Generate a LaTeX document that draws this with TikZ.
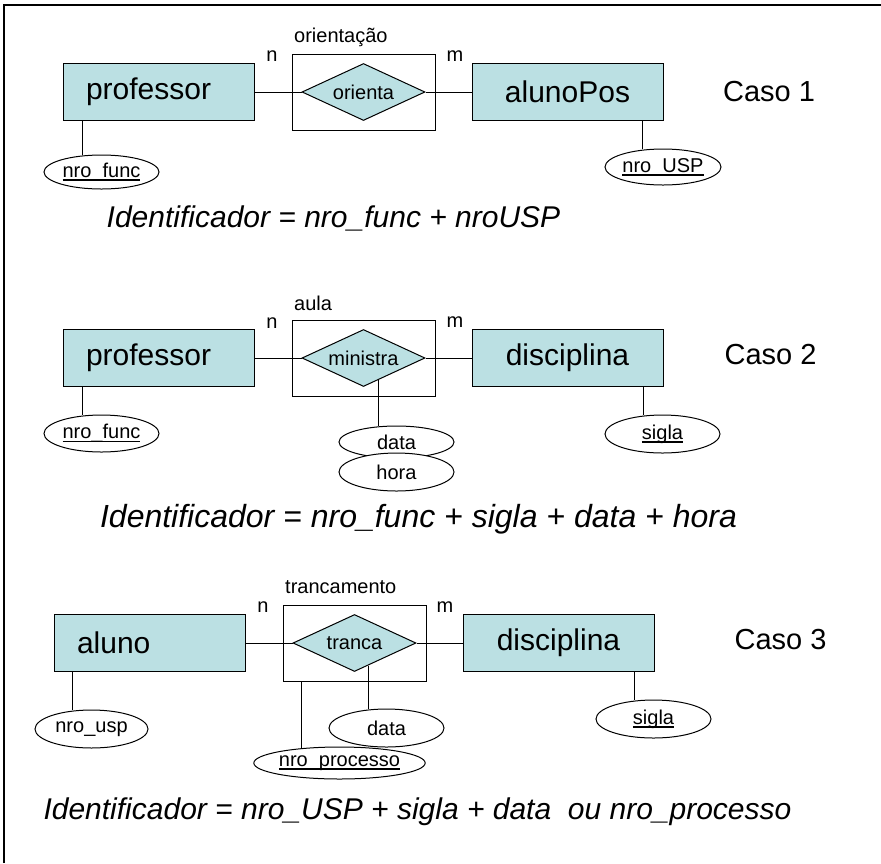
\documentclass[tikz,border=0pt]{standalone}
\usepackage{fontspec}
\setmainfont{Liberation Sans}
\usetikzlibrary{shapes.geometric,calc}
\definecolor{entfill}{RGB}{187,224,227}
\newcommand\keyattr[1]{\setbox0\hbox{#1}\rlap{\rule[-3.5pt]{\wd0}{1.4pt}}\box0}
\begin{document}
\begin{tikzpicture}[x=1pt,y=-1pt,
  ent/.style={draw, fill=entfill, line width=1pt, minimum width=191pt, minimum height=57pt, inner sep=0pt, font=\fontsize{30}{36}\selectfont},
  entl/.style={ent, text width=145pt, align=left, inner xsep=23pt},
  rel/.style={diamond, draw, fill=entfill, line width=1pt, aspect=2.16, minimum width=123pt, minimum height=57pt, inner sep=0pt, font=\fontsize{20}{24}\selectfont},
  relbox/.style={draw, line width=1pt, minimum width=143pt, minimum height=76pt, inner sep=0pt},
  attr/.style={ellipse, draw, fill=white, line width=1pt, minimum width=115pt, minimum height=36pt, inner sep=0pt, font=\fontsize{20}{24}\selectfont},
  lbl/.style={font=\fontsize{20}{24}\selectfont, inner sep=0pt},
  caso/.style={font=\fontsize{29}{35}\selectfont, inner sep=0pt},
  ident/.style={font=\fontsize{30}{36}\selectfont\itshape, anchor=base, inner sep=0pt},
  conn/.style={line width=1pt}]
\useasboundingbox (0,0) rectangle (881,863);
\fill[white] (0,0) rectangle (881,863);
\draw[line width=2pt] (4,863) -- (4,5) -- (881,5);

% ---------- Caso 1 ----------
\node[relbox] (rb1) at (363.5,92) {};
\node[rel] (r1) at (363.5,92) {orienta};
\node[entl] (e1a) at (158.5,92) {professor};
\node[ent] (e1b) at (567.5,92) {alunoPos};
\node[attr, minimum height=34pt] (a1a) at (101.5,172) {\keyattr{nro\_func}};
\node[attr, minimum width=116pt] (a1b) at (663,167) {\keyattr{nro\_USP}};
\node[lbl, anchor=west] (t1) at (294,37) {orientação};
\node[lbl] (n1) at (272,56) {n};
\node[lbl] (m1) at (455,56) {m};
\node[caso] (c1) at (769,92) {Caso 1};
\draw[conn] (e1a) -- (r1);
\draw[conn] (r1) -- (e1b);
\draw[conn] ($(e1a.south west)+(20,0)$) coordinate (p1a) -- (p1a |- a1a.north);
\draw[conn] ($(e1b.south west)+(171,0)$) coordinate (p1b) -- (p1b |- a1b.north);
\node[ident] (i1) at (333.5,227) {Identificador = nro\_func + nroUSP};

% ---------- Caso 2 ----------
\node[relbox] (rb2) at (363.5,358) {};
\node[rel] (r2) at (363.5,358) {ministra};
\node[entl] (e2a) at (158.5,358) {professor};
\node[ent] (e2b) at (567.5,358) {disciplina};
\node[attr, minimum height=37pt] (a2a) at (101.5,433.5) {\keyattr{nro\_func}};
\node[attr, minimum height=38pt] (a2b) at (662.5,434) {\keyattr{sigla}};
\node[attr, minimum height=32pt] (d2) at (396.5,442) {data};
\node[attr, minimum height=38pt] (h2) at (396.5,472) {hora};
\node[lbl, anchor=west] (t2) at (294,303) {aula};
\node[lbl] (n2) at (272,323) {n};
\node[lbl] (m2) at (455,322) {m};
\node[caso] (c2) at (770.5,355) {Caso 2};
\draw[conn] (e2a) -- (r2);
\draw[conn] (r2) -- (e2b);
\draw[conn] ($(e2a.south west)+(20,0)$) coordinate (p2a) -- (p2a |- a2a.north);
\draw[conn] ($(e2b.south west)+(172,0)$) coordinate (p2b) -- (p2b |- a2b.north);
\draw[conn] ($(r2.south)!0.236!(r2.east)$) coordinate (p2d) -- (p2d |- d2.north);
\node[ident, font=\fontsize{32}{38}\selectfont\itshape] (i2) at (418.5,527) {Identificador = nro\_func + sigla + data + hora};

% ---------- Caso 3 ----------
\node[relbox] (rb3) at (354.5,643) {};
\node[rel] (r3) at (354.5,643) {tranca};
\node[entl] (e3a) at (149.5,643) {aluno};
\node[ent] (e3b) at (558.5,643) {disciplina};
\node[attr, minimum width=113pt, minimum height=38pt] (a3a) at (91.5,729) {nro\_usp};
\node[attr, minimum height=38pt] (a3b) at (653.5,719) {\keyattr{sigla}};
\node[attr, minimum height=38pt] (d3) at (386.5,728) {data};
\node[attr, minimum width=153pt, minimum height=32pt] (p3) at (339.5,763) {\keyattr{nro\_processo}};
\node[lbl, anchor=west] (t3) at (285,587) {trancamento};
\node[lbl] (n3) at (263,607) {n};
\node[lbl] (m3) at (445,607) {m};
\node[caso] (c3) at (780.5,640) {Caso 3};
\draw[conn] (e3a) -- (r3);
\draw[conn] (r3) -- (e3b);
\draw[conn] ($(e3a.south west)+(19,0)$) coordinate (p3a) -- (p3a |- a3a.north);
\draw[conn] ($(e3b.south west)+(172,0)$) coordinate (p3b) -- (p3b |- a3b.north);
\draw[conn] ($(r3.south)!0.22!(r3.east)$) coordinate (p3d) -- (p3d |- d3.north);
\draw[conn] ($(rb3.south west)+(19,0)$) coordinate (p3p) -- ($(p3p |- p3.north)+(0,1.5)$);
\node[ident] (i3) at (417.5,819) {Identificador = nro\_USP + sigla + data\ \ ou nro\_processo};
\end{tikzpicture}
\end{document}
